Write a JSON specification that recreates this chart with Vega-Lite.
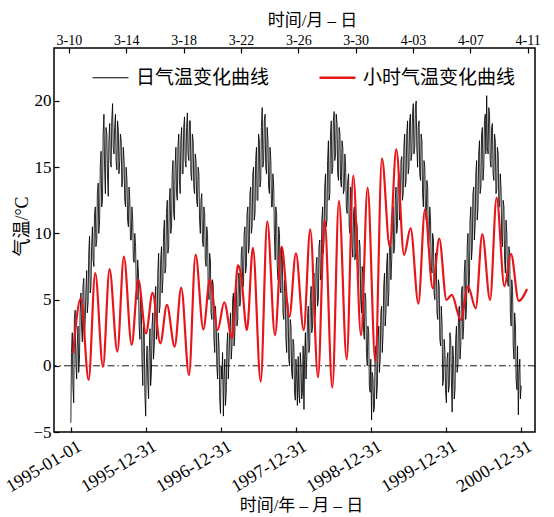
{
"$schema":"https://vega.github.io/schema/vega-lite/v6.json",
"autosize":{"type":"none"},
"width":481,"height":384,
"padding":{"left":54,"top":48,"right":19,"bottom":85},
"config":{
"font":"Liberation Serif, Noto Sans CJK SC",
"view":{"stroke":"#000","strokeWidth":1.5},
"axis":{"domain":false,"grid":false,"tickColor":"#000","tickWidth":1.2,"labelColor":"#000","titleColor":"#000","titleFontWeight":"normal","labelFont":"Liberation Serif","titleFont":"Liberation Serif, Noto Sans CJK SC","labelOverlap":false,"labelFlush":false}
},
"layer":[
{"data":{"values":[
{"d":"1995-01-01","v":-4.3},{"d":"1995-01-04","v":1.0},{"d":"1995-01-08","v":2.5},{"d":"1995-01-11","v":-1.5},{"d":"1995-01-15","v":-2.8},{"d":"1995-01-18","v":3.5},{"d":"1995-01-22","v":4.2},{"d":"1995-01-25","v":0.5},{"d":"1995-01-29","v":-1.0},{"d":"1995-02-01","v":1.5},{"d":"1995-02-05","v":3.0},{"d":"1995-02-08","v":-0.5},{"d":"1995-02-12","v":0.5},{"d":"1995-02-15","v":4.0},{"d":"1995-02-19","v":5.5},{"d":"1995-02-22","v":3.0},{"d":"1995-02-26","v":1.8},{"d":"1995-03-01","v":6.0},{"d":"1995-03-05","v":6.6},{"d":"1995-03-08","v":2.0},{"d":"1995-03-12","v":3.5},{"d":"1995-03-15","v":5.5},{"d":"1995-03-19","v":7.2},{"d":"1995-03-22","v":4.0},{"d":"1995-03-26","v":4.8},{"d":"1995-03-29","v":8.5},{"d":"1995-04-02","v":9.8},{"d":"1995-04-05","v":5.5},{"d":"1995-04-09","v":6.0},{"d":"1995-04-12","v":9.0},{"d":"1995-04-16","v":10.5},{"d":"1995-04-19","v":8.0},{"d":"1995-04-23","v":7.5},{"d":"1995-04-26","v":11.5},{"d":"1995-04-30","v":12.0},{"d":"1995-05-03","v":9.0},{"d":"1995-05-07","v":9.5},{"d":"1995-05-10","v":13.0},{"d":"1995-05-14","v":13.8},{"d":"1995-05-17","v":10.0},{"d":"1995-05-21","v":11.0},{"d":"1995-05-24","v":15.0},{"d":"1995-05-28","v":16.2},{"d":"1995-05-31","v":12.0},{"d":"1995-06-04","v":12.5},{"d":"1995-06-07","v":17.5},{"d":"1995-06-11","v":19.0},{"d":"1995-06-14","v":15.0},{"d":"1995-06-18","v":13.0},{"d":"1995-06-21","v":18.0},{"d":"1995-06-25","v":17.5},{"d":"1995-06-28","v":14.5},{"d":"1995-07-02","v":12.8},{"d":"1995-07-05","v":17.0},{"d":"1995-07-09","v":18.3},{"d":"1995-07-12","v":15.5},{"d":"1995-07-16","v":15.0},{"d":"1995-07-19","v":18.5},{"d":"1995-07-23","v":19.8},{"d":"1995-07-26","v":16.5},{"d":"1995-07-30","v":16.0},{"d":"1995-08-02","v":18.0},{"d":"1995-08-06","v":19.0},{"d":"1995-08-09","v":15.5},{"d":"1995-08-13","v":14.8},{"d":"1995-08-16","v":18.5},{"d":"1995-08-20","v":17.8},{"d":"1995-08-23","v":14.5},{"d":"1995-08-27","v":15.5},{"d":"1995-08-30","v":17.5},{"d":"1995-09-03","v":17.0},{"d":"1995-09-06","v":13.5},{"d":"1995-09-10","v":14.0},{"d":"1995-09-13","v":16.5},{"d":"1995-09-17","v":15.5},{"d":"1995-09-20","v":12.5},{"d":"1995-09-24","v":12.0},{"d":"1995-09-27","v":15.0},{"d":"1995-10-01","v":14.0},{"d":"1995-10-04","v":11.0},{"d":"1995-10-08","v":10.5},{"d":"1995-10-11","v":13.5},{"d":"1995-10-15","v":12.5},{"d":"1995-10-18","v":9.5},{"d":"1995-10-22","v":9.5},{"d":"1995-10-25","v":12.0},{"d":"1995-10-29","v":11.0},{"d":"1995-11-01","v":8.0},{"d":"1995-11-05","v":7.8},{"d":"1995-11-08","v":10.0},{"d":"1995-11-12","v":9.0},{"d":"1995-11-15","v":6.0},{"d":"1995-11-19","v":5.0},{"d":"1995-11-22","v":8.0},{"d":"1995-11-26","v":7.0},{"d":"1995-11-29","v":3.0},{"d":"1995-12-03","v":2.0},{"d":"1995-12-06","v":5.5},{"d":"1995-12-10","v":4.0},{"d":"1995-12-13","v":0.5},{"d":"1995-12-17","v":-1.5},{"d":"1995-12-20","v":3.0},{"d":"1995-12-24","v":2.5},{"d":"1995-12-27","v":-2.0},{"d":"1995-12-31","v":-3.8},{"d":"1996-01-03","v":0.0},
{"d":"1996-01-07","v":1.5},{"d":"1996-01-10","v":-1.0},{"d":"1996-01-14","v":-2.5},{"d":"1996-01-17","v":1.0},{"d":"1996-01-21","v":2.8},{"d":"1996-01-24","v":-1.5},{"d":"1996-01-28","v":-0.5},{"d":"1996-01-31","v":3.0},{"d":"1996-02-04","v":4.0},{"d":"1996-02-07","v":0.5},{"d":"1996-02-11","v":1.5},{"d":"1996-02-14","v":5.0},{"d":"1996-02-18","v":6.0},{"d":"1996-02-21","v":2.0},{"d":"1996-02-25","v":3.0},{"d":"1996-02-28","v":7.0},{"d":"1996-03-03","v":8.5},{"d":"1996-03-06","v":4.0},{"d":"1996-03-10","v":4.5},{"d":"1996-03-13","v":8.0},{"d":"1996-03-17","v":9.0},{"d":"1996-03-20","v":5.5},{"d":"1996-03-24","v":6.5},{"d":"1996-03-27","v":10.0},{"d":"1996-03-31","v":11.0},{"d":"1996-04-03","v":7.0},{"d":"1996-04-07","v":7.5},{"d":"1996-04-10","v":11.5},{"d":"1996-04-14","v":12.5},{"d":"1996-04-17","v":8.5},{"d":"1996-04-21","v":9.0},{"d":"1996-04-24","v":12.5},{"d":"1996-04-28","v":13.4},{"d":"1996-05-01","v":10.0},{"d":"1996-05-05","v":10.5},{"d":"1996-05-08","v":14.5},{"d":"1996-05-12","v":15.5},{"d":"1996-05-15","v":11.5},{"d":"1996-05-19","v":11.0},{"d":"1996-05-22","v":15.0},{"d":"1996-05-26","v":16.5},{"d":"1996-05-29","v":13.0},{"d":"1996-06-02","v":12.5},{"d":"1996-06-05","v":16.5},{"d":"1996-06-09","v":17.5},{"d":"1996-06-12","v":14.0},{"d":"1996-06-16","v":13.0},{"d":"1996-06-19","v":17.0},{"d":"1996-06-23","v":18.0},{"d":"1996-06-26","v":14.5},{"d":"1996-06-30","v":14.5},{"d":"1996-07-03","v":18.0},{"d":"1996-07-07","v":18.8},{"d":"1996-07-10","v":15.5},{"d":"1996-07-14","v":15.0},{"d":"1996-07-17","v":18.0},{"d":"1996-07-21","v":19.1},{"d":"1996-07-24","v":16.0},{"d":"1996-07-28","v":15.5},{"d":"1996-07-31","v":18.5},{"d":"1996-08-04","v":18.5},{"d":"1996-08-07","v":14.5},{"d":"1996-08-11","v":14.0},{"d":"1996-08-14","v":17.5},{"d":"1996-08-18","v":17.0},{"d":"1996-08-21","v":13.5},{"d":"1996-08-25","v":13.0},{"d":"1996-08-28","v":16.0},{"d":"1996-09-01","v":15.5},{"d":"1996-09-04","v":12.5},{"d":"1996-09-08","v":12.0},{"d":"1996-09-11","v":15.0},{"d":"1996-09-15","v":14.5},{"d":"1996-09-18","v":11.0},{"d":"1996-09-22","v":10.0},{"d":"1996-09-25","v":12.5},{"d":"1996-09-29","v":13.0},{"d":"1996-10-02","v":9.5},{"d":"1996-10-06","v":9.0},{"d":"1996-10-09","v":12.0},{"d":"1996-10-13","v":11.5},{"d":"1996-10-16","v":8.0},{"d":"1996-10-20","v":7.5},{"d":"1996-10-23","v":10.5},{"d":"1996-10-27","v":10.0},{"d":"1996-10-30","v":6.0},{"d":"1996-11-03","v":5.0},{"d":"1996-11-06","v":8.5},{"d":"1996-11-10","v":8.0},{"d":"1996-11-13","v":4.0},{"d":"1996-11-17","v":3.5},{"d":"1996-11-20","v":6.5},{"d":"1996-11-24","v":6.0},{"d":"1996-11-27","v":2.0},{"d":"1996-12-01","v":1.0},{"d":"1996-12-04","v":4.5},{"d":"1996-12-08","v":3.5},{"d":"1996-12-11","v":0.0},{"d":"1996-12-15","v":-1.0},{"d":"1996-12-18","v":2.5},{"d":"1996-12-22","v":1.5},{"d":"1996-12-25","v":-2.5},{"d":"1996-12-29","v":-3.6},{"d":"1997-01-01","v":0.0},
{"d":"1997-01-05","v":-1.0},{"d":"1997-01-08","v":1.0},{"d":"1997-01-12","v":-3.8},{"d":"1997-01-15","v":-1.0},{"d":"1997-01-19","v":0.5},{"d":"1997-01-22","v":-3.0},{"d":"1997-01-26","v":-2.0},{"d":"1997-01-29","v":1.5},{"d":"1997-02-02","v":2.5},{"d":"1997-02-05","v":-1.0},{"d":"1997-02-09","v":0.7},{"d":"1997-02-12","v":3.0},{"d":"1997-02-16","v":4.0},{"d":"1997-02-19","v":0.5},{"d":"1997-02-23","v":1.5},{"d":"1997-02-26","v":5.0},{"d":"1997-03-02","v":5.5},{"d":"1997-03-05","v":1.5},{"d":"1997-03-09","v":2.5},{"d":"1997-03-12","v":6.0},{"d":"1997-03-16","v":6.5},{"d":"1997-03-19","v":3.0},{"d":"1997-03-23","v":3.5},{"d":"1997-03-26","v":7.0},{"d":"1997-03-30","v":7.0},{"d":"1997-04-02","v":4.5},{"d":"1997-04-06","v":5.0},{"d":"1997-04-09","v":8.5},{"d":"1997-04-13","v":9.0},{"d":"1997-04-16","v":6.0},{"d":"1997-04-20","v":6.0},{"d":"1997-04-23","v":10.0},{"d":"1997-04-27","v":10.5},{"d":"1997-04-30","v":7.0},{"d":"1997-05-04","v":7.5},{"d":"1997-05-07","v":11.5},{"d":"1997-05-11","v":12.0},{"d":"1997-05-14","v":8.5},{"d":"1997-05-18","v":9.0},{"d":"1997-05-21","v":13.0},{"d":"1997-05-25","v":13.5},{"d":"1997-05-28","v":10.0},{"d":"1997-06-01","v":10.5},{"d":"1997-06-04","v":14.5},{"d":"1997-06-08","v":15.0},{"d":"1997-06-11","v":11.0},{"d":"1997-06-15","v":11.5},{"d":"1997-06-18","v":15.5},{"d":"1997-06-22","v":16.5},{"d":"1997-06-25","v":12.5},{"d":"1997-06-29","v":12.5},{"d":"1997-07-02","v":17.5},{"d":"1997-07-06","v":17.0},{"d":"1997-07-09","v":13.5},{"d":"1997-07-13","v":14.0},{"d":"1997-07-16","v":18.0},{"d":"1997-07-20","v":19.5},{"d":"1997-07-23","v":15.0},{"d":"1997-07-27","v":15.5},{"d":"1997-07-30","v":18.5},{"d":"1997-08-03","v":19.0},{"d":"1997-08-06","v":15.0},{"d":"1997-08-10","v":14.5},{"d":"1997-08-13","v":18.0},{"d":"1997-08-17","v":17.0},{"d":"1997-08-20","v":13.5},{"d":"1997-08-24","v":13.0},{"d":"1997-08-27","v":16.5},{"d":"1997-08-31","v":15.5},{"d":"1997-09-03","v":12.0},{"d":"1997-09-07","v":12.0},{"d":"1997-09-10","v":14.5},{"d":"1997-09-14","v":13.5},{"d":"1997-09-17","v":10.0},{"d":"1997-09-21","v":8.0},{"d":"1997-09-24","v":12.0},{"d":"1997-09-28","v":11.5},{"d":"1997-10-01","v":7.5},{"d":"1997-10-05","v":6.5},{"d":"1997-10-08","v":10.5},{"d":"1997-10-12","v":10.0},{"d":"1997-10-15","v":6.0},{"d":"1997-10-19","v":5.5},{"d":"1997-10-22","v":9.0},{"d":"1997-10-26","v":8.0},{"d":"1997-10-29","v":4.0},{"d":"1997-11-02","v":3.5},{"d":"1997-11-05","v":6.5},{"d":"1997-11-09","v":5.5},{"d":"1997-11-12","v":2.0},{"d":"1997-11-16","v":1.0},{"d":"1997-11-19","v":5.0},{"d":"1997-11-23","v":4.5},{"d":"1997-11-26","v":0.5},{"d":"1997-11-30","v":0.0},{"d":"1997-12-03","v":3.5},{"d":"1997-12-07","v":3.0},{"d":"1997-12-10","v":-0.5},{"d":"1997-12-14","v":-1.0},{"d":"1997-12-17","v":2.0},{"d":"1997-12-21","v":1.5},{"d":"1997-12-24","v":-2.0},{"d":"1997-12-28","v":-2.6},{"d":"1997-12-31","v":0.5},
{"d":"1998-01-04","v":-1.0},{"d":"1998-01-07","v":-3.0},{"d":"1998-01-11","v":0.7},{"d":"1998-01-14","v":-2.0},{"d":"1998-01-18","v":-2.8},{"d":"1998-01-21","v":1.0},{"d":"1998-01-25","v":0.0},{"d":"1998-01-28","v":-2.5},{"d":"1998-02-01","v":-2.0},{"d":"1998-02-04","v":1.5},{"d":"1998-02-08","v":-3.3},{"d":"1998-02-11","v":0.5},{"d":"1998-02-15","v":2.5},{"d":"1998-02-18","v":-1.0},{"d":"1998-02-22","v":0.7},{"d":"1998-02-25","v":3.5},{"d":"1998-03-01","v":4.5},{"d":"1998-03-04","v":1.0},{"d":"1998-03-08","v":1.5},{"d":"1998-03-11","v":5.0},{"d":"1998-03-15","v":6.0},{"d":"1998-03-18","v":2.5},{"d":"1998-03-22","v":3.0},{"d":"1998-03-25","v":6.5},{"d":"1998-03-29","v":7.0},{"d":"1998-04-01","v":3.5},{"d":"1998-04-05","v":4.0},{"d":"1998-04-08","v":7.5},{"d":"1998-04-12","v":8.2},{"d":"1998-04-15","v":4.5},{"d":"1998-04-19","v":5.0},{"d":"1998-04-22","v":9.0},{"d":"1998-04-26","v":9.5},{"d":"1998-04-29","v":6.5},{"d":"1998-05-03","v":7.0},{"d":"1998-05-06","v":11.0},{"d":"1998-05-10","v":12.0},{"d":"1998-05-13","v":8.5},{"d":"1998-05-17","v":9.5},{"d":"1998-05-20","v":13.5},{"d":"1998-05-24","v":14.5},{"d":"1998-05-27","v":10.5},{"d":"1998-05-31","v":11.0},{"d":"1998-06-03","v":15.5},{"d":"1998-06-07","v":17.0},{"d":"1998-06-10","v":12.5},{"d":"1998-06-14","v":13.0},{"d":"1998-06-17","v":17.5},{"d":"1998-06-21","v":18.5},{"d":"1998-06-24","v":14.5},{"d":"1998-06-28","v":15.0},{"d":"1998-07-01","v":18.5},{"d":"1998-07-05","v":19.2},{"d":"1998-07-08","v":15.5},{"d":"1998-07-12","v":16.0},{"d":"1998-07-15","v":19.0},{"d":"1998-07-19","v":18.3},{"d":"1998-07-22","v":14.5},{"d":"1998-07-26","v":14.0},{"d":"1998-07-29","v":18.0},{"d":"1998-08-02","v":17.5},{"d":"1998-08-05","v":14.0},{"d":"1998-08-09","v":13.5},{"d":"1998-08-12","v":17.0},{"d":"1998-08-16","v":16.5},{"d":"1998-08-19","v":13.0},{"d":"1998-08-23","v":13.3},{"d":"1998-08-26","v":16.0},{"d":"1998-08-30","v":15.0},{"d":"1998-09-02","v":12.0},{"d":"1998-09-06","v":11.5},{"d":"1998-09-09","v":14.0},{"d":"1998-09-13","v":14.5},{"d":"1998-09-16","v":10.5},{"d":"1998-09-20","v":10.0},{"d":"1998-09-23","v":13.5},{"d":"1998-09-27","v":13.0},{"d":"1998-09-30","v":9.0},{"d":"1998-10-04","v":8.2},{"d":"1998-10-07","v":11.5},{"d":"1998-10-11","v":12.0},{"d":"1998-10-14","v":8.0},{"d":"1998-10-18","v":8.5},{"d":"1998-10-21","v":11.0},{"d":"1998-10-25","v":10.5},{"d":"1998-10-28","v":6.5},{"d":"1998-11-01","v":6.0},{"d":"1998-11-04","v":9.5},{"d":"1998-11-08","v":9.0},{"d":"1998-11-11","v":5.0},{"d":"1998-11-15","v":4.0},{"d":"1998-11-18","v":7.5},{"d":"1998-11-22","v":7.0},{"d":"1998-11-25","v":2.5},{"d":"1998-11-29","v":2.0},{"d":"1998-12-02","v":5.5},{"d":"1998-12-06","v":5.0},{"d":"1998-12-09","v":1.0},{"d":"1998-12-13","v":0.0},{"d":"1998-12-16","v":3.0},{"d":"1998-12-20","v":2.5},{"d":"1998-12-23","v":-1.5},{"d":"1998-12-27","v":-2.0},{"d":"1998-12-30","v":0.5},
{"d":"1999-01-03","v":-4.1},{"d":"1999-01-06","v":-0.5},{"d":"1999-01-10","v":-1.0},{"d":"1999-01-13","v":-3.5},{"d":"1999-01-17","v":-3.1},{"d":"1999-01-20","v":0.5},{"d":"1999-01-24","v":1.5},{"d":"1999-01-27","v":-2.5},{"d":"1999-01-31","v":-1.5},{"d":"1999-02-03","v":2.0},{"d":"1999-02-07","v":3.0},{"d":"1999-02-10","v":-0.5},{"d":"1999-02-14","v":0.5},{"d":"1999-02-17","v":4.0},{"d":"1999-02-21","v":4.5},{"d":"1999-02-24","v":1.0},{"d":"1999-02-28","v":2.5},{"d":"1999-03-03","v":6.0},{"d":"1999-03-07","v":7.0},{"d":"1999-03-10","v":3.0},{"d":"1999-03-14","v":4.0},{"d":"1999-03-17","v":7.5},{"d":"1999-03-21","v":8.5},{"d":"1999-03-24","v":4.5},{"d":"1999-03-28","v":5.5},{"d":"1999-03-31","v":9.0},{"d":"1999-04-04","v":9.5},{"d":"1999-04-07","v":6.5},{"d":"1999-04-11","v":8.0},{"d":"1999-04-14","v":11.0},{"d":"1999-04-18","v":12.0},{"d":"1999-04-21","v":8.5},{"d":"1999-04-25","v":9.0},{"d":"1999-04-28","v":12.5},{"d":"1999-05-02","v":13.5},{"d":"1999-05-05","v":10.0},{"d":"1999-05-09","v":10.5},{"d":"1999-05-12","v":14.0},{"d":"1999-05-16","v":14.5},{"d":"1999-05-19","v":11.0},{"d":"1999-05-23","v":12.0},{"d":"1999-05-26","v":15.5},{"d":"1999-05-30","v":15.8},{"d":"1999-06-02","v":12.5},{"d":"1999-06-06","v":13.0},{"d":"1999-06-09","v":16.5},{"d":"1999-06-13","v":17.5},{"d":"1999-06-16","v":13.5},{"d":"1999-06-20","v":14.0},{"d":"1999-06-23","v":17.5},{"d":"1999-06-27","v":18.5},{"d":"1999-06-30","v":14.5},{"d":"1999-07-04","v":15.0},{"d":"1999-07-07","v":18.5},{"d":"1999-07-11","v":19.0},{"d":"1999-07-14","v":15.5},{"d":"1999-07-18","v":16.0},{"d":"1999-07-21","v":19.0},{"d":"1999-07-25","v":19.8},{"d":"1999-07-28","v":16.0},{"d":"1999-08-01","v":16.5},{"d":"1999-08-04","v":19.5},{"d":"1999-08-08","v":20.0},{"d":"1999-08-11","v":16.5},{"d":"1999-08-15","v":15.0},{"d":"1999-08-18","v":18.0},{"d":"1999-08-22","v":18.5},{"d":"1999-08-25","v":14.5},{"d":"1999-08-29","v":14.0},{"d":"1999-09-01","v":17.5},{"d":"1999-09-05","v":17.0},{"d":"1999-09-08","v":13.0},{"d":"1999-09-12","v":12.0},{"d":"1999-09-15","v":15.5},{"d":"1999-09-19","v":15.0},{"d":"1999-09-22","v":11.5},{"d":"1999-09-26","v":11.0},{"d":"1999-09-29","v":14.0},{"d":"1999-10-03","v":13.5},{"d":"1999-10-06","v":9.0},{"d":"1999-10-10","v":9.5},{"d":"1999-10-13","v":12.0},{"d":"1999-10-17","v":11.0},{"d":"1999-10-20","v":7.5},{"d":"1999-10-24","v":7.0},{"d":"1999-10-27","v":10.0},{"d":"1999-10-31","v":9.5},{"d":"1999-11-03","v":5.5},{"d":"1999-11-07","v":5.0},{"d":"1999-11-10","v":8.5},{"d":"1999-11-14","v":8.0},{"d":"1999-11-17","v":4.0},{"d":"1999-11-21","v":3.5},{"d":"1999-11-24","v":6.5},{"d":"1999-11-28","v":6.0},{"d":"1999-12-01","v":2.0},{"d":"1999-12-05","v":1.5},{"d":"1999-12-08","v":4.5},{"d":"1999-12-12","v":3.2},{"d":"1999-12-15","v":-1.5},{"d":"1999-12-19","v":-1.0},{"d":"1999-12-22","v":2.0},{"d":"1999-12-26","v":1.0},{"d":"1999-12-29","v":-2.0},
{"d":"2000-01-02","v":-2.8},{"d":"2000-01-05","v":0.5},{"d":"2000-01-09","v":1.0},{"d":"2000-01-12","v":-2.0},{"d":"2000-01-16","v":-1.5},{"d":"2000-01-19","v":2.5},{"d":"2000-01-23","v":2.0},{"d":"2000-01-26","v":-1.0},{"d":"2000-01-30","v":-3.5},{"d":"2000-02-02","v":1.5},{"d":"2000-02-06","v":0.5},{"d":"2000-02-09","v":-2.5},{"d":"2000-02-13","v":-1.8},{"d":"2000-02-16","v":2.0},{"d":"2000-02-20","v":3.0},{"d":"2000-02-23","v":-0.5},{"d":"2000-02-27","v":0.0},{"d":"2000-03-01","v":4.0},{"d":"2000-03-05","v":4.5},{"d":"2000-03-08","v":0.5},{"d":"2000-03-12","v":1.5},{"d":"2000-03-15","v":5.5},{"d":"2000-03-19","v":6.0},{"d":"2000-03-22","v":2.0},{"d":"2000-03-26","v":3.0},{"d":"2000-03-29","v":7.0},{"d":"2000-04-02","v":8.0},{"d":"2000-04-05","v":3.5},{"d":"2000-04-09","v":4.5},{"d":"2000-04-12","v":9.0},{"d":"2000-04-16","v":10.0},{"d":"2000-04-19","v":5.5},{"d":"2000-04-23","v":6.5},{"d":"2000-04-26","v":11.0},{"d":"2000-04-30","v":12.0},{"d":"2000-05-03","v":8.0},{"d":"2000-05-07","v":9.0},{"d":"2000-05-10","v":13.0},{"d":"2000-05-14","v":13.5},{"d":"2000-05-17","v":9.5},{"d":"2000-05-21","v":10.7},{"d":"2000-05-24","v":14.5},{"d":"2000-05-28","v":15.5},{"d":"2000-05-31","v":11.0},{"d":"2000-06-04","v":12.0},{"d":"2000-06-07","v":16.0},{"d":"2000-06-11","v":17.0},{"d":"2000-06-14","v":13.0},{"d":"2000-06-18","v":13.5},{"d":"2000-06-21","v":17.5},{"d":"2000-06-25","v":18.0},{"d":"2000-06-28","v":14.0},{"d":"2000-07-02","v":15.0},{"d":"2000-07-05","v":18.5},{"d":"2000-07-09","v":19.0},{"d":"2000-07-12","v":16.0},{"d":"2000-07-16","v":20.4},{"d":"2000-07-19","v":16.5},{"d":"2000-07-23","v":16.0},{"d":"2000-07-26","v":19.5},{"d":"2000-07-30","v":19.0},{"d":"2000-08-02","v":15.5},{"d":"2000-08-06","v":15.0},{"d":"2000-08-09","v":18.0},{"d":"2000-08-13","v":18.3},{"d":"2000-08-16","v":14.5},{"d":"2000-08-20","v":14.0},{"d":"2000-08-23","v":17.5},{"d":"2000-08-27","v":17.0},{"d":"2000-08-30","v":13.0},{"d":"2000-09-03","v":13.3},{"d":"2000-09-06","v":16.5},{"d":"2000-09-10","v":16.0},{"d":"2000-09-13","v":12.0},{"d":"2000-09-17","v":12.0},{"d":"2000-09-20","v":14.5},{"d":"2000-09-24","v":13.3},{"d":"2000-09-27","v":9.5},{"d":"2000-10-01","v":9.0},{"d":"2000-10-04","v":12.5},{"d":"2000-10-08","v":12.0},{"d":"2000-10-11","v":8.0},{"d":"2000-10-15","v":7.0},{"d":"2000-10-18","v":11.0},{"d":"2000-10-22","v":10.0},{"d":"2000-10-25","v":6.5},{"d":"2000-10-29","v":6.0},{"d":"2000-11-01","v":9.0},{"d":"2000-11-05","v":8.5},{"d":"2000-11-08","v":4.0},{"d":"2000-11-12","v":3.0},{"d":"2000-11-15","v":6.5},{"d":"2000-11-19","v":5.7},{"d":"2000-11-22","v":1.5},{"d":"2000-11-26","v":0.5},{"d":"2000-11-29","v":4.0},{"d":"2000-12-03","v":3.0},{"d":"2000-12-06","v":-1.0},{"d":"2000-12-10","v":-1.8},{"d":"2000-12-13","v":1.5},{"d":"2000-12-17","v":-3.7},{"d":"2000-12-20","v":-0.5},{"d":"2000-12-24","v":0.5},{"d":"2000-12-27","v":-2.5},{"d":"2000-12-31","v":-1.5}
]},
"mark":{"type":"line","strokeWidth":0.85},
"encoding":{
"x":{"field":"d","type":"temporal","scale":{"type":"utc","domain":[{"year":1994,"month":10,"date":11,"utc":true},{"year":2001,"month":3,"date":8,"utc":true}]},
"axis":{"orient":"bottom","values":[{"year":1995,"month":1,"date":1,"utc":true},{"year":1995,"month":12,"date":31,"utc":true},{"year":1996,"month":12,"date":31,"utc":true},{"year":1997,"month":12,"date":31,"utc":true},{"year":1998,"month":12,"date":31,"utc":true},{"year":1999,"month":12,"date":31,"utc":true},{"year":2000,"month":12,"date":31,"utc":true}],
"format":"%Y-%m-%d","labelAngle":-31,"labelAlign":"right","labelBaseline":"top","labelFontSize":18,"tickSize":-5,"labelPadding":10,"labelOffset":4,
"title":"时间/年 – 月 – 日","titleFontSize":17,"titleX":247,"titleY":73,"titleAlign":"center","titleBaseline":"middle","titleAnchor":"middle"}},
"y":{"field":"v","type":"quantitative","scale":{"domain":[-5,24],"nice":false,"zero":false},
"axis":{"values":[-5,0,5,10,15,20],"title":"气温/°C","tickSize":-5,"labelPadding":8,"labelFontSize":17,"titleFontSize":18,"titleX":-32,"titleY":178,"titleAlign":"center","titleBaseline":"middle","titleAngle":-90}},
"color":{"datum":"日气温变化曲线","type":"nominal","scale":{"domain":["日气温变化曲线","小时气温变化曲线"],"range":["#000000","#e8161b"]},
"legend":{"orient":"none","legendX":47,"legendY":20,"direction":"horizontal","title":null,"symbolType":"stroke","symbolSize":1296,"symbolStrokeWidth":1.5,"labelFontSize":19,"labelFont":"Noto Sans CJK SC","labelColor":"#000","labelOffset":16,"columnPadding":44,"labelLimit":400,
"encode":{"symbols":{"update":{"strokeWidth":{"signal":"datum.value === '日气温变化曲线' ? 1 : 2.5"}}}}}}
}},
{"data":{"values":[{"v":0}]},
"mark":{"type":"rule","color":"#000","strokeWidth":0.9,"strokeDash":[7,3,1.5,3]},
"encoding":{"y":{"field":"v","type":"quantitative"}}},
{"data":{"values":[
{"t":"2000-03-10T07:00:00Z","v":0.94},{"t":"2000-03-10T20:00:00Z","v":5.1},{"t":"2000-03-11T09:00:00Z","v":-1.07},{"t":"2000-03-11T20:00:00Z","v":7.0},{"t":"2000-03-12T09:00:00Z","v":-0.07},{"t":"2000-03-12T20:00:00Z","v":7.3},{"t":"2000-03-13T09:00:00Z","v":1.07},{"t":"2000-03-13T20:00:00Z","v":8.25},{"t":"2000-03-14T09:00:00Z","v":1.57},{"t":"2000-03-14T20:00:00Z","v":6.5},{"t":"2000-03-15T09:00:00Z","v":2.45},{"t":"2000-03-15T20:00:00Z","v":5.5},{"t":"2000-03-16T09:00:00Z","v":1.7},{"t":"2000-03-16T20:00:00Z","v":4.6},{"t":"2000-03-17T09:00:00Z","v":1.45},{"t":"2000-03-17T20:00:00Z","v":5.9},{"t":"2000-03-18T09:00:00Z","v":-0.7},{"t":"2000-03-18T20:00:00Z","v":8.4},{"t":"2000-03-19T09:00:00Z","v":2.75},{"t":"2000-03-19T20:00:00Z","v":6.5},{"t":"2000-03-20T09:00:00Z","v":2.7},{"t":"2000-03-20T20:00:00Z","v":4.8},{"t":"2000-03-21T09:00:00Z","v":2.1},{"t":"2000-03-21T19:00:00Z","v":7.6},{"t":"2000-03-22T00:00:00Z","v":6.9},{"t":"2000-03-22T10:00:00Z","v":2.7},{"t":"2000-03-22T20:00:00Z","v":8.9},{"t":"2000-03-23T09:00:00Z","v":-1.2},{"t":"2000-03-23T20:00:00Z","v":10.9},{"t":"2000-03-24T09:00:00Z","v":2.3},{"t":"2000-03-24T20:00:00Z","v":9.0},{"t":"2000-03-25T09:00:00Z","v":3.7},{"t":"2000-03-25T20:00:00Z","v":8.5},{"t":"2000-03-26T09:00:00Z","v":2.7},{"t":"2000-03-26T20:00:00Z","v":10.3},{"t":"2000-03-27T09:00:00Z","v":-0.87},{"t":"2000-03-27T20:00:00Z","v":11.0},{"t":"2000-03-28T09:00:00Z","v":-1.65},{"t":"2000-03-28T20:00:00Z","v":12.45},{"t":"2000-03-29T09:00:00Z","v":0.49},{"t":"2000-03-29T20:00:00Z","v":14.36},{"t":"2000-03-30T09:00:00Z","v":2.3},{"t":"2000-03-30T20:00:00Z","v":13.45},{"t":"2000-03-31T09:00:00Z","v":0.31},{"t":"2000-03-31T20:00:00Z","v":15.67},{"t":"2000-04-01T09:00:00Z","v":9.0},{"t":"2000-04-01T20:00:00Z","v":16.35},{"t":"2000-04-02T09:00:00Z","v":8.37},{"t":"2000-04-02T20:00:00Z","v":10.4},{"t":"2000-04-03T09:00:00Z","v":4.7},{"t":"2000-04-03T20:00:00Z","v":11.8},{"t":"2000-04-04T09:00:00Z","v":5.85},{"t":"2000-04-04T20:00:00Z","v":9.6},{"t":"2000-04-05T08:00:00Z","v":4.97},{"t":"2000-04-05T17:00:00Z","v":5.35},{"t":"2000-04-06T08:00:00Z","v":3.46},{"t":"2000-04-06T20:00:00Z","v":6.0},{"t":"2000-04-07T09:00:00Z","v":4.34},{"t":"2000-04-07T20:00:00Z","v":9.95},{"t":"2000-04-08T09:00:00Z","v":4.97},{"t":"2000-04-08T20:00:00Z","v":12.7},{"t":"2000-04-09T09:00:00Z","v":6.0},{"t":"2000-04-09T20:00:00Z","v":8.45},{"t":"2000-04-10T09:00:00Z","v":4.9},{"t":"2000-04-10T23:00:00Z","v":5.8}
]},
"mark":{"type":"line","strokeWidth":2.2,"interpolate":"monotone"},
"encoding":{
"x":{"field":"t","type":"temporal","scale":{"type":"utc","domain":[{"year":2000,"month":3,"date":8,"hours":23,"utc":true},{"year":2000,"month":4,"date":11,"hours":12,"minutes":15,"utc":true}]},
"axis":{"orient":"top","values":[{"year":2000,"month":3,"date":10,"utc":true},{"year":2000,"month":3,"date":14,"utc":true},{"year":2000,"month":3,"date":18,"utc":true},{"year":2000,"month":3,"date":22,"utc":true},{"year":2000,"month":3,"date":26,"utc":true},{"year":2000,"month":3,"date":30,"utc":true},{"year":2000,"month":4,"date":3,"utc":true},{"year":2000,"month":4,"date":7,"utc":true},{"year":2000,"month":4,"date":11,"utc":true}],
"format":"%-m-%d","labelFontSize":14,"tickSize":-5,"labelPadding":6,"labelAngle":0,
"title":"时间/月 – 日","titleFontSize":17,"titleX":258,"titleY":-28,"titleAlign":"center","titleBaseline":"middle","titleAnchor":"middle"}},
"y":{"field":"v","type":"quantitative","scale":{"domain":[-5,24],"nice":false,"zero":false}},
"color":{"datum":"小时气温变化曲线","type":"nominal","scale":{"domain":["日气温变化曲线","小时气温变化曲线"],"range":["#000000","#e8161b"]}}
}}
],
"resolve":{"scale":{"x":"independent"},"axis":{"x":"independent"}}
}
